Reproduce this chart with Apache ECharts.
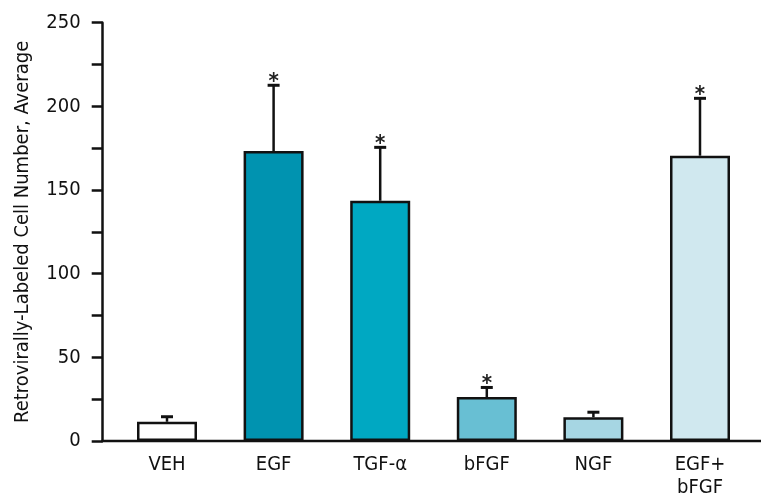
<!DOCTYPE html>
<html>
<head>
<meta charset="utf-8">
<script src="https://cdn.jsdelivr.net/npm/echarts@6/dist/echarts.min.js"></script>
<style>
  html, body { margin: 0; padding: 0; background: #fff; }
  #chart { width: 761px; height: 494px; }
</style>
</head>
<body>
<div id="chart"></div>
<script>
// values
const categories = ['VEH', 'EGF', 'TGF-\u03b1', 'bFGF', 'NGF', 'EGF+\nbFGF']
const means = [11.5, 173.3, 143.6, 26.3, 14.2, 170.5]
const upperErrors = [14.5, 212.6, 175.5, 32, 17.2, 204.8]
const significant = [false, true, true, true, false, true]
const barColors = ['#ffffff', '#0093b0', '#00a8c2', '#68bfd3', '#a6d6e3', '#d0e8ef']
const yTicks = { min: 0, max: 250, step: 50 }

const font = '"Liberation Sans Narrow", "DejaVu Sans Condensed", "Liberation Sans", sans-serif'
const chart = echarts.init(document.getElementById('chart'))

const errorData = means.map((m, i) => [i, m, upperErrors[i], significant[i] ? 1 : 0])

const renderError = (params, api) => {
  const x = api.value(0)
  const top = api.coord([x, api.value(1)])
  const cap = api.coord([x, api.value(2)])
  const half = 6
  const children = [
    { type: 'line', shape: { x1: top[0], y1: top[1], x2: cap[0], y2: cap[1] }, style: { stroke: '#111', lineWidth: 2.5 } },
    { type: 'line', shape: { x1: cap[0] - half, y1: cap[1], x2: cap[0] + half, y2: cap[1] }, style: { stroke: '#111', lineWidth: 3 } }
  ]
  if (api.value(3)) {
    children.push({
      type: 'text',
      style: { text: '*', x: cap[0], y: cap[1] + 8, align: 'center', verticalAlign: 'bottom', fontSize: 22, fontWeight: 'bold', fontFamily: font, fill: '#222' }
    })
  }
  return { type: 'group', children }
}

const option = {
  animation: false,
  backgroundColor: '#fff',
  grid: { left: 113.7, right: 7.7, top: 22.7, bottom: 53, outerBoundsMode: 'none', containLabel: false },
  xAxis: {
    type: 'category',
    data: categories,
    axisLine: { show: false },
    axisTick: { show: false },
    axisLabel: { color: '#111', fontSize: 20, fontFamily: font, margin: 12, lineHeight: 23 }
  },
  yAxis: {
    type: 'value',
    min: yTicks.min,
    max: yTicks.max,
    interval: yTicks.step,
    offset: 11,
    name: 'Retrovirally-Labeled Cell Number, Average',
    nameLocation: 'middle',
    nameGap: 70,
    nameTextStyle: { color: '#111', fontSize: 20, fontFamily: font },
    axisLine: { show: true, lineStyle: { color: '#111', width: 2.5 } },
    axisTick: { show: true, inside: false, length: 11, lineStyle: { color: '#111', width: 2.5 } },
    minorTick: { show: true, splitNumber: 2, length: 11, lineStyle: { color: '#111', width: 2.5 } },
    splitLine: { show: false },
    axisLabel: { color: '#111', fontSize: 20, fontFamily: font, margin: 22 }
  },
  series: [
    {
      type: 'bar',
      barWidth: 60,
      data: means.map((v, i) => ({ value: v, itemStyle: { color: barColors[i] } })),
      itemStyle: { borderColor: '#111', borderWidth: 2.5 }
    },
    {
      type: 'custom',
      renderItem: renderError,
      data: errorData,
      z: 5
    }
  ]
}
chart.setOption(option)

// baseline spans from the y axis to the right edge
const y0 = chart.convertToPixel({ yAxisIndex: 0 }, 0)
chart.setOption({
  graphic: [{
    type: 'line',
    shape: { x1: 101.5, y1: y0, x2: 761, y2: y0 },
    style: { stroke: '#111', lineWidth: 2.5 },
    z: 10
  }]
})
</script>
</body>
</html>
